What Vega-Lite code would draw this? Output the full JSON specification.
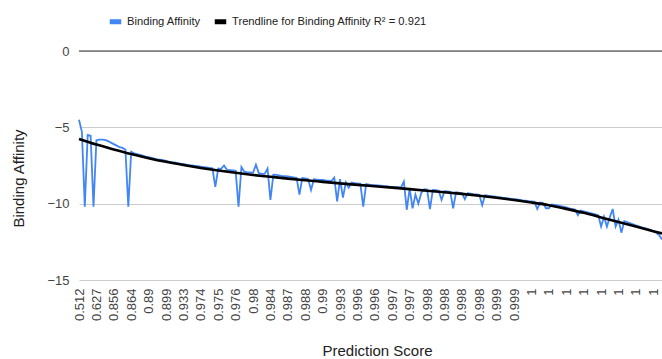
{
  "$schema": "https://vega.github.io/schema/vega-lite/v6.json",
  "width": 583,
  "height": 229,
  "autosize": "none",
  "padding": {"left": 79, "top": 51, "right": 0, "bottom": 79},
  "config": {
    "view": {"stroke": null},
    "font": "Liberation Sans",
    "axis": {"labelFont": "Liberation Sans", "titleFont": "Liberation Sans", "labelColor": "#444444", "titleColor": "#222222", "titleFontWeight": "normal"},
    "axisX": {"labelOverlap": false, "tickCount": 60},
    "legend": {"labelFont": "Liberation Sans", "labelColor": "#222222"}
  },
  "datasets": {
    "ba": [
      {"i":0,"v":-4.5},{"i":1,"v":-5.3},{"i":2,"v":-10.2},{"i":3,"v":-5.5},{"i":4,"v":-5.55},{"i":5,"v":-10.2},{"i":6,"v":-5.85},{"i":7,"v":-5.8},{"i":8,"v":-5.8},{"i":9,"v":-5.82},
      {"i":10,"v":-5.9},{"i":11,"v":-6.0},{"i":12,"v":-6.1},{"i":13,"v":-6.2},{"i":14,"v":-6.3},{"i":15,"v":-6.35},{"i":16,"v":-6.45},{"i":17,"v":-10.2},{"i":18,"v":-6.6},{"i":19,"v":-6.7},
      {"i":20,"v":-6.75},{"i":21,"v":-6.8},{"i":22,"v":-6.85},{"i":23,"v":-6.92},{"i":24,"v":-6.95},{"i":25,"v":-7.0},{"i":26,"v":-7.05},{"i":27,"v":-7.1},{"i":28,"v":-7.12},{"i":29,"v":-7.15},
      {"i":30,"v":-7.2},{"i":31,"v":-7.25},{"i":32,"v":-7.28},{"i":33,"v":-7.3},{"i":34,"v":-7.35},{"i":35,"v":-7.38},{"i":36,"v":-7.4},{"i":37,"v":-7.45},{"i":38,"v":-7.48},{"i":39,"v":-7.5},
      {"i":40,"v":-7.52},{"i":41,"v":-7.55},{"i":42,"v":-7.58},{"i":43,"v":-7.6},{"i":44,"v":-7.62},{"i":45,"v":-7.65},{"i":46,"v":-7.68},{"i":47,"v":-8.9},{"i":48,"v":-7.7},{"i":49,"v":-7.72},
      {"i":50,"v":-7.5},{"i":51,"v":-7.78},{"i":52,"v":-7.8},{"i":53,"v":-7.82},{"i":54,"v":-7.85},{"i":55,"v":-10.2},{"i":56,"v":-7.6},{"i":57,"v":-7.9},{"i":58,"v":-7.95},{"i":59,"v":-7.95},
      {"i":60,"v":-7.98},{"i":61,"v":-7.45},{"i":62,"v":-8.0},{"i":63,"v":-8.05},{"i":64,"v":-8.05},{"i":65,"v":-7.7},{"i":66,"v":-9.75},{"i":67,"v":-8.1},{"i":68,"v":-8.12},{"i":69,"v":-8.15},
      {"i":70,"v":-8.2},{"i":71,"v":-8.2},{"i":72,"v":-8.22},{"i":73,"v":-8.25},{"i":74,"v":-8.28},{"i":75,"v":-8.3},{"i":76,"v":-9.4},{"i":77,"v":-8.32},{"i":78,"v":-8.35},{"i":79,"v":-8.38},
      {"i":80,"v":-9.1},{"i":81,"v":-8.4},{"i":82,"v":-8.42},{"i":83,"v":-8.45},{"i":84,"v":-8.45},{"i":85,"v":-8.48},{"i":86,"v":-8.5},{"i":87,"v":-8.52},{"i":88,"v":-8.3},{"i":89,"v":-9.85},
      {"i":90,"v":-8.4},{"i":91,"v":-9.6},{"i":92,"v":-8.6},{"i":93,"v":-8.95},{"i":94,"v":-8.62},{"i":95,"v":-8.65},{"i":96,"v":-8.68},{"i":97,"v":-8.7},{"i":98,"v":-10.2},{"i":99,"v":-8.72},
      {"i":100,"v":-8.75},{"i":101,"v":-8.78},{"i":102,"v":-8.78},{"i":103,"v":-8.8},{"i":104,"v":-8.82},{"i":105,"v":-8.85},{"i":106,"v":-8.85},{"i":107,"v":-8.88},{"i":108,"v":-8.9},{"i":109,"v":-8.92},
      {"i":110,"v":-8.92},{"i":111,"v":-8.95},{"i":112,"v":-8.55},{"i":113,"v":-10.4},{"i":114,"v":-9.0},{"i":115,"v":-10.3},{"i":116,"v":-9.4},{"i":117,"v":-10.0},{"i":118,"v":-9.3},{"i":119,"v":-9.05},
      {"i":120,"v":-9.08},{"i":121,"v":-10.35},{"i":122,"v":-9.1},{"i":123,"v":-9.12},{"i":124,"v":-9.15},{"i":125,"v":-9.75},{"i":126,"v":-9.18},{"i":127,"v":-9.2},{"i":128,"v":-9.22},{"i":129,"v":-10.3},
      {"i":130,"v":-9.25},{"i":131,"v":-9.28},{"i":132,"v":-9.3},{"i":133,"v":-9.7},{"i":134,"v":-9.32},{"i":135,"v":-9.35},{"i":136,"v":-9.38},{"i":137,"v":-9.4},{"i":138,"v":-9.42},{"i":139,"v":-10.1},
      {"i":140,"v":-9.45},{"i":141,"v":-9.48},{"i":142,"v":-9.5},{"i":143,"v":-9.52},{"i":144,"v":-9.55},{"i":145,"v":-9.57},{"i":146,"v":-9.6},{"i":147,"v":-9.62},{"i":148,"v":-9.65},{"i":149,"v":-9.68},
      {"i":150,"v":-9.7},{"i":151,"v":-9.72},{"i":152,"v":-9.75},{"i":153,"v":-9.78},{"i":154,"v":-9.8},{"i":155,"v":-9.83},{"i":156,"v":-9.85},{"i":157,"v":-9.88},{"i":158,"v":-10.35},{"i":159,"v":-9.92},
      {"i":160,"v":-9.96},{"i":161,"v":-10.3},{"i":162,"v":-10.3},{"i":163,"v":-10.05},{"i":164,"v":-10.08},{"i":165,"v":-10.12},{"i":166,"v":-10.16},{"i":167,"v":-10.2},{"i":168,"v":-10.25},{"i":169,"v":-10.3},
      {"i":170,"v":-10.35},{"i":171,"v":-10.38},{"i":172,"v":-10.75},{"i":173,"v":-10.45},{"i":174,"v":-10.5},{"i":175,"v":-10.55},{"i":176,"v":-10.6},{"i":177,"v":-10.65},{"i":178,"v":-10.7},{"i":179,"v":-10.75},
      {"i":180,"v":-11.5},{"i":181,"v":-10.85},{"i":182,"v":-11.5},{"i":183,"v":-10.9},{"i":184,"v":-10.35},{"i":185,"v":-11.5},{"i":186,"v":-11.05},{"i":187,"v":-11.9},{"i":188,"v":-11.15},{"i":189,"v":-11.2},
      {"i":190,"v":-11.28},{"i":191,"v":-11.35},{"i":192,"v":-11.42},{"i":193,"v":-11.48},{"i":194,"v":-11.55},{"i":195,"v":-11.6},{"i":196,"v":-11.65},{"i":197,"v":-11.72},{"i":198,"v":-11.8},{"i":199,"v":-11.9},
      {"i":200,"v":-12.05},{"i":201,"v":-12.35}
    ],
    "trend": [
      {"i":0,"t":-5.76},{"i":6,"t":-6.13},{"i":12,"t":-6.45},{"i":18,"t":-6.75},{"i":24,"t":-7.02},{"i":30,"t":-7.26},{"i":36,"t":-7.47},{"i":42,"t":-7.66},{"i":48,"t":-7.83},{"i":54,"t":-7.98},
      {"i":60,"t":-8.12},{"i":66,"t":-8.24},{"i":72,"t":-8.36},{"i":78,"t":-8.47},{"i":84,"t":-8.57},{"i":90,"t":-8.67},{"i":96,"t":-8.77},{"i":102,"t":-8.86},{"i":108,"t":-8.95},{"i":114,"t":-9.05},
      {"i":120,"t":-9.15},{"i":126,"t":-9.25},{"i":132,"t":-9.36},{"i":138,"t":-9.48},{"i":144,"t":-9.61},{"i":150,"t":-9.76},{"i":156,"t":-9.92},{"i":162,"t":-10.1},{"i":168,"t":-10.34},{"i":174,"t":-10.6},
      {"i":180,"t":-10.9},{"i":186,"t":-11.2},{"i":192,"t":-11.5},{"i":198,"t":-11.8},{"i":201,"t":-11.95}
    ],
    "zero": [{"y": 0}]
  },
  "layer": [
    {
      "data": {"name": "zero"},
      "mark": {"type": "rule", "color": "#333333", "strokeWidth": 1},
      "encoding": {"y": {"field": "y", "type": "quantitative"}}
    },
    {
      "data": {"name": "ba"},
      "mark": {"type": "line", "strokeWidth": 1.8, "interpolate": "linear"},
      "encoding": {
        "x": {
          "field": "i", "type": "quantitative",
          "scale": {"domain": [0, 201], "nice": false, "zero": false},
          "axis": {
            "title": "Prediction Score",
            "values": [0,6,12,18,24,30,36,42,48,54,60,66,72,78,84,90,96,102,108,114,120,126,132,138,144,150,156,162,168,174,180,186,192,198],
            "tickCount": 60,
            "labelExpr": "['0.512','0.627','0.856','0.864','0.89','0.899','0.933','0.974','0.975','0.976','0.98','0.984','0.987','0.988','0.99','0.993','0.996','0.996','0.997','0.997','0.998','0.998','0.998','0.998','0.999','0.999','1','1','1','1','1','1','1','1'][round(datum.value/6)]",
            "labelAngle": -90, "labelAlign": "right", "labelBaseline": "middle",
            "labelFontSize": 13, "labelPadding": 8, "labelOverlap": false, "labelBound": false, "labelFlush": false,
            "domain": false, "ticks": false, "grid": false,
            "titleFontSize": 15, "titleX": 298, "titleY": 75, "titleBaseline": "alphabetic", "titleAlign": "center"
          }
        },
        "y": {
          "field": "v", "type": "quantitative",
          "scale": {"domain": [-15, 0], "nice": false},
          "axis": {
            "title": "Binding Affinity",
            "values": [-15, -10, -5, 0],
            "labelFontSize": 13, "labelPadding": 10,
            "domain": false, "ticks": false, "grid": true, "gridColor": "#cccccc",
            "titleFontSize": 15, "titleX": -61, "titleY": 127, "titleAngle": -90, "titleBaseline": "middle", "titleAlign": "center"
          }
        },
        "color": {
          "datum": "Binding Affinity",
          "type": "nominal",
          "scale": {"domain": ["Binding Affinity", "Trendline for Binding Affinity R² = 0.921"], "range": ["#4285F4", "#000000"]},
          "legend": {
            "title": null, "orient": "none", "direction": "horizontal",
            "legendX": 28, "legendY": -38,
            "symbolType": "stroke", "symbolSize": 132, "symbolStrokeWidth": 5,
            "labelFontSize": 11.2, "labelOffset": 3, "columnPadding": 3, "labelLimit": 400
          }
        }
      }
    },
    {
      "data": {"name": "trend"},
      "mark": {"type": "line", "strokeWidth": 2.6, "interpolate": "monotone"},
      "encoding": {
        "x": {"field": "i", "type": "quantitative"},
        "y": {"field": "t", "type": "quantitative"},
        "color": {"datum": "Trendline for Binding Affinity R² = 0.921", "type": "nominal"}
      }
    }
  ]
}
